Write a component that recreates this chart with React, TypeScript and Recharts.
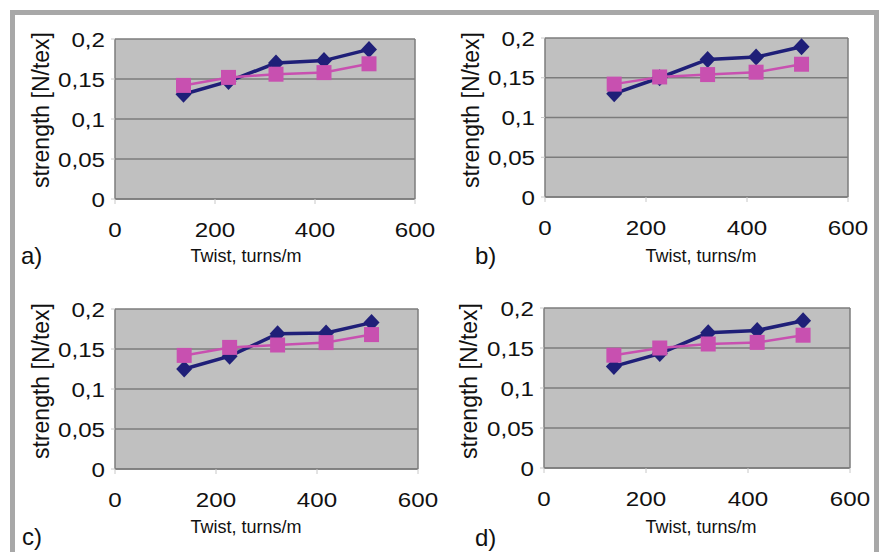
import { LineChart, Line, XAxis, YAxis, CartesianGrid, ReferenceLine } from "recharts"

// twist levels shared by all four panels
const twist = [137, 227, 322, 418, 508]
const xTicks = [0, 200, 400, 600]
const yTicks = [0, 0.05, 0.1, 0.15, 0.2]

const blueA = [0.131, 0.147, 0.17, 0.173, 0.187]
const pinkA = [0.142, 0.152, 0.156, 0.158, 0.169]
const blueB = [0.13, 0.15, 0.173, 0.176, 0.189]
const pinkB = [0.142, 0.151, 0.154, 0.157, 0.167]
const blueC = [0.125, 0.141, 0.169, 0.17, 0.183]
const pinkC = [0.142, 0.152, 0.155, 0.158, 0.168]
const blueD = [0.127, 0.143, 0.169, 0.172, 0.184]
const pinkD = [0.141, 0.15, 0.155, 0.157, 0.166]

const xTitle = "Twist, turns/m"
const yTitle = "strength [N/tex]"

const FONT = "'Liberation Sans', Arial, sans-serif"
const BLUE = "#1f1f78"
const PINK = "#c850b0"

const panels = [
  { tag: "a)", blue: blueA, pink: pinkA, x: 115, y: 39, w: 300, h: 160, tx: 246, ty: 256, yx: 41, yy: 110, gx: 21, gy: 256 },
  { tag: "b)", blue: blueB, pink: pinkB, x: 545, y: 38, w: 303, h: 159, tx: 701, ty: 256, yx: 471, yy: 110, gx: 475, gy: 256 },
  { tag: "c)", blue: blueC, pink: pinkC, x: 115, y: 309, w: 303, h: 160, tx: 246, ty: 527, yx: 41, yy: 381, gx: 22, gy: 537 },
  { tag: "d)", blue: blueD, pink: pinkD, x: 544, y: 308, w: 306, h: 160, tx: 701, ty: 527, yx: 469, yy: 381, gx: 475, gy: 538 },
]

const fmt = (v: number) => String(v).replace(".", ",")

// tick labels in the source are set a little wider than plain Arial
function YTick({ x, y, payload }: any) {
  return (
    <text
      transform={`translate(${x},${y}) scale(1.15,1)`}
      textAnchor="end"
      dy="0.36em"
      fontSize={21}
      fontFamily={FONT}
      fill="#111"
    >
      {fmt(payload.value)}
    </text>
  )
}

function XTick({ x, y, payload }: any) {
  return (
    <text
      transform={`translate(${x},${y}) scale(1.15,1)`}
      textAnchor="middle"
      dy="0.71em"
      fontSize={21}
      fontFamily={FONT}
      fill="#111"
    >
      {payload.value}
    </text>
  )
}

function Diamond(props: any) {
  const { cx, cy, index } = props
  if (cx == null || cy == null) return <g key={`d-${index}`} />
  return (
    <path
      key={`d-${index}`}
      d={`M${cx},${cy - 8.5} L${cx + 8},${cy} L${cx},${cy + 8.5} L${cx - 8},${cy} Z`}
      fill={BLUE}
    />
  )
}

function Square(props: any) {
  const { cx, cy, index } = props
  if (cx == null || cy == null) return <g key={`s-${index}`} />
  return <rect key={`s-${index}`} x={cx - 7.5} y={cy - 7.5} width={15} height={15} fill={PINK} />
}

function Panel({ p }: { p: (typeof panels)[number] }) {
  const data = twist.map((t, i) => ({ twist: t, blue: p.blue[i], pink: p.pink[i] }))
  const text = { position: "absolute" as const, fontFamily: FONT, color: "#111", whiteSpace: "nowrap" as const }
  return (
    <>
      <div style={{ position: "absolute", left: p.x - 115, top: p.y - 39 }}>
        <LineChart
          width={115 + p.w + 25}
          height={39 + p.h + 81}
          data={data}
          margin={{ top: 39, right: 25, bottom: 41, left: 0 }}
        >
          <CartesianGrid fill="#c0c0c0" stroke="#7c7c7c" strokeWidth={1.5} vertical={false} />
          <XAxis
            dataKey="twist"
            type="number"
            domain={[0, 600]}
            ticks={xTicks}
            height={40}
            tickSize={5}
            tickMargin={18}
            axisLine={{ stroke: "#7c7c7c", strokeWidth: 1.5 }}
            tickLine={{ stroke: "#c8c8c8" }}
            tick={XTick}
          />
          <YAxis
            type="number"
            domain={[0, 0.2]}
            ticks={yTicks}
            width={115}
            tickSize={4}
            tickMargin={6}
            axisLine={{ stroke: "#7c7c7c", strokeWidth: 1.5 }}
            tickLine={{ stroke: "#c8c8c8" }}
            tick={YTick}
          />
          <ReferenceLine x={600} stroke="#7c7c7c" strokeWidth={1.5} />
          <Line dataKey="blue" stroke={BLUE} strokeWidth={3.5} dot={Diamond} isAnimationActive={false} />
          <Line dataKey="pink" stroke={PINK} strokeWidth={2.5} dot={Square} isAnimationActive={false} />
        </LineChart>
      </div>
      <div style={{ ...text, left: p.tx, top: p.ty, fontSize: 18, transform: "translate(-50%,-50%)" }}>{xTitle}</div>
      <div style={{ ...text, left: p.yx, top: p.yy, fontSize: 23, transform: "translate(-50%,-50%) rotate(-90deg)" }}>
        {yTitle}
      </div>
      <div style={{ ...text, left: p.gx, top: p.gy, fontSize: 24, transform: "translateY(-50%)" }}>{p.tag}</div>
    </>
  )
}

export default function App() {
  return (
    <div style={{ position: "absolute", left: 0, top: 0, width: 883, height: 552, background: "#fff", overflow: "hidden" }}>
      <div
        style={{
          position: "absolute",
          left: 10,
          top: 10,
          width: 869,
          height: 560,
          boxSizing: "border-box",
          border: "5px solid #a8a8a8",
          borderBottom: "none",
        }}
      />
      {panels.map((p) => (
        <Panel key={p.tag} p={p} />
      ))}
    </div>
  )
}
